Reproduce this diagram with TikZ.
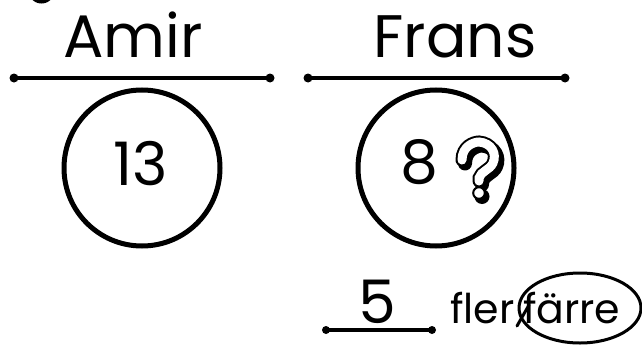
\documentclass[tikz,border=0pt]{standalone}
\usepackage{fontspec}
\usetikzlibrary{shapes.geometric}
\setmainfont{Poppins}
\begin{document}
\begin{tikzpicture}[x=1pt,y=-1pt,
  bigtxt/.style={inner sep=0pt,font=\fontsize{60}{64}\selectfont},
  smalltxt/.style={inner sep=0pt,font=\fontsize{41}{44}\selectfont},
  ring/.style={circle,draw,line width=5pt,minimum size=156pt,inner sep=0pt},
  rule/.style={line width=4pt,line cap=round},
  enddot/.style={circle,fill,inner sep=0pt,minimum size=9pt}]
\useasboundingbox (0,0) rectangle (642,345);
% cropped fragment top-left
\draw[line width=4pt] (33,-3) .. controls (36,3) and (47,3) .. (50,-3);
% names
\node[bigtxt,anchor=base] (amir) at (133,57) {Amir};
\node[bigtxt,anchor=base] (frans) at (455,57) {Frans};
% rules under names
\coordinate (a1) at (14,78); \coordinate (a2) at (270,78);
\coordinate (f1) at (308,78); \coordinate (f2) at (565,78);
\draw[rule] (a1) -- (a2);
\draw[rule] (f1) -- (f2);
\foreach \p in {a1,a2,f1,f2} \node[enddot] at (\p) {};
% circles
\node[ring] (c1) at (142,168) {};
\node[ring] (c2) at (436,168) {};
\node[bigtxt,anchor=base] (n13) at (141,185) {13};
\node[bigtxt,anchor=base] (n8) at (419,183) {8};
% outlined question mark with shadow
\begin{scope}[shift={(3,3.5)}]
\draw[line width=14pt,line cap=round] (462,160) .. controls (462,146) and (474,142) .. (479,142) .. controls (492,143) and (497,154) .. (493,163) .. controls (490,170) and (481,171) .. (479,178) -- (479,181);
\fill (479,193) circle (7.5pt);
\end{scope}
\draw[line width=2pt,double=white,double distance=9pt,line cap=round] (462,160) .. controls (462,146) and (474,142) .. (479,142) .. controls (492,143) and (497,154) .. (493,163) .. controls (490,170) and (481,171) .. (479,178) -- (479,181);
\draw[line width=2pt,fill=white] (479,193) circle (5.8pt);
% answer
\node[bigtxt,anchor=base] (n5) at (377,323) {5};
\coordinate (b1) at (326,330); \coordinate (b2) at (432,330);
\draw[rule] (b1) -- (b2);
\foreach \p in {b1,b2} \node[enddot,minimum size=8pt] at (\p) {};
\node[smalltxt,anchor=base west] (fler) at (450,323) {fler};
\node[smalltxt,anchor=base west] (farre) at (523,323) {färre};
\draw[line width=3pt,line cap=round] (517,326) -- (529,305);
\node[ellipse,draw,line width=3pt,minimum width=122pt,minimum height=70pt,inner sep=0pt] (ring3) at (580,308) {};
\end{tikzpicture}
\end{document}
